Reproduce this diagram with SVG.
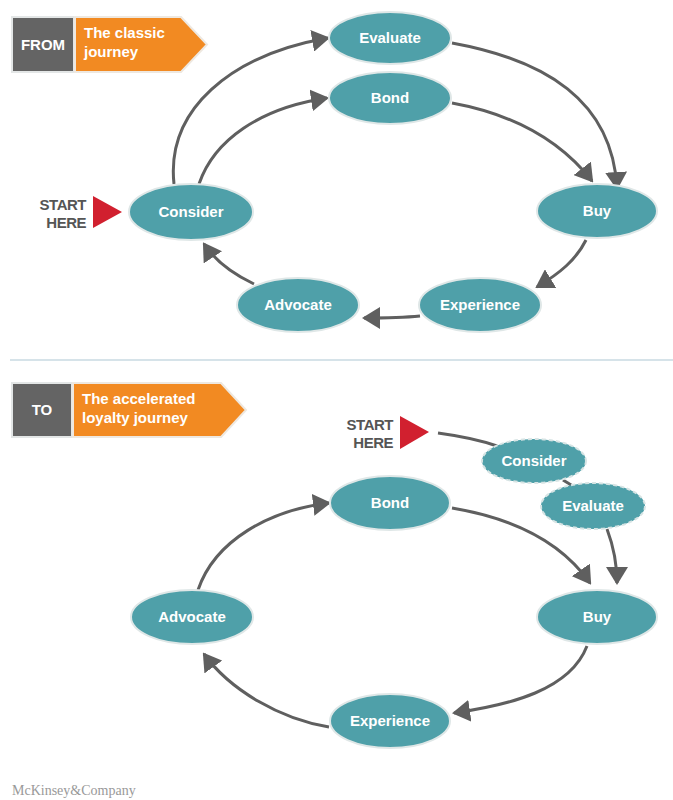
<svg xmlns="http://www.w3.org/2000/svg" width="673" height="800" viewBox="0 0 673 800">
<style>
.node{fill:#4fa0a9;stroke:#dfe7e7;stroke-width:2}
.dnode{fill:#4fa0a9;stroke:#d7e4e4;stroke-width:2;stroke-dasharray:4 3}
.lbl{font-family:"Liberation Sans",Arial,sans-serif;font-weight:bold;font-size:15px;fill:#ffffff;text-anchor:middle}
.conn{fill:none;stroke:#5f5f5f;stroke-width:3}
.start{font-family:"Liberation Sans",Arial,sans-serif;font-weight:bold;font-size:15px;fill:#555555;text-anchor:end;letter-spacing:-0.5px}
.tag{font-family:"Liberation Sans",Arial,sans-serif;font-weight:bold;font-size:15px;fill:#ffffff}
</style>
<defs>
<marker id="ah" markerUnits="userSpaceOnUse" markerWidth="18" markerHeight="22" viewBox="0 0 18 22" refX="16" refY="11" orient="auto">
<path d="M0,0 L18,11 L0,22 z" fill="#5f5f5f"/>
</marker>
</defs>
<rect width="673" height="800" fill="#ffffff"/>

<!-- Header FROM -->
<g id="header-from">
<rect x="12" y="17" width="62" height="55" fill="#646464" stroke="#e3e6e6" stroke-width="2"/>
<polygon points="75,17 181,17 207,44.5 181,72 75,72" fill="#f28a22" stroke="#eee8e0" stroke-width="2"/>
<text class="tag" x="43" y="50" text-anchor="middle">FROM</text>
<text class="tag" x="84" y="38">The classic</text>
<text class="tag" x="84" y="57">journey</text>
</g>

<g id="start-top">
<text class="start" x="86" y="210">START</text>
<text class="start" x="86" y="228">HERE</text>
<polygon points="93,196 122,212 93,228" fill="#d1202f"/>
</g>

<!-- Top connectors -->
<g id="connectors-top">
<path class="conn" d="M174,184 C166,110 230,55 328,38" marker-end="url(#ah)"/>
<path class="conn" d="M199,184 C214,140 260,108 327,98" marker-end="url(#ah)"/>
<path class="conn" d="M452,43 C545,60 612,100 617,188" marker-end="url(#ah)"/>
<path class="conn" d="M452,103 C512,114 560,140 592,181" marker-end="url(#ah)"/>
<path class="conn" d="M586,240 C576,260 560,273 537,287" marker-end="url(#ah)"/>
<path class="conn" d="M420,316 C400,318 385,318 364,318" marker-end="url(#ah)"/>
<path class="conn" d="M254,284 C235,275 216,262 204,244" marker-end="url(#ah)"/>
</g>

<!-- Top nodes -->
<g id="top-evaluate"><ellipse class="node" cx="390" cy="38" rx="61" ry="26"/><text class="lbl" x="390" y="43">Evaluate</text></g>
<g id="top-bond"><ellipse class="node" cx="390" cy="98" rx="61" ry="26"/><text class="lbl" x="390" y="103">Bond</text></g>
<g id="top-consider"><ellipse class="node" cx="191" cy="212" rx="62" ry="28"/><text class="lbl" x="191" y="217">Consider</text></g>
<g id="top-buy"><ellipse class="node" cx="597" cy="211" rx="60" ry="27"/><text class="lbl" x="597" y="216">Buy</text></g>
<g id="top-advocate"><ellipse class="node" cx="298" cy="305" rx="61" ry="27"/><text class="lbl" x="298" y="310">Advocate</text></g>
<g id="top-experience"><ellipse class="node" cx="480" cy="305" rx="61" ry="27"/><text class="lbl" x="480" y="310">Experience</text></g>

<line x1="10" y1="360" x2="673" y2="360" stroke="#c9dae2" stroke-width="1.5"/>

<!-- Header TO -->
<g id="header-to">
<rect x="12" y="383" width="60" height="54" fill="#646464" stroke="#e3e6e6" stroke-width="2"/>
<polygon points="73,383 221,383 246,410 221,437 73,437" fill="#f28a22" stroke="#eee8e0" stroke-width="2"/>
<text class="tag" x="42" y="415" text-anchor="middle">TO</text>
<text class="tag" x="82" y="404">The accelerated</text>
<text class="tag" x="82" y="423">loyalty journey</text>
</g>

<g id="start-bottom">
<text class="start" x="393" y="430">START</text>
<text class="start" x="393" y="448">HERE</text>
<polygon points="400,416 429,432 400,449" fill="#d1202f"/>
</g>

<!-- Bottom connectors -->
<g id="connectors-bottom">
<path class="conn" d="M438,433 C460,436 480,440 497,446"/>
<path class="conn" d="M563,480 L576,488"/>
<path class="conn" d="M607,529 C613,545 617,560 617,583" marker-end="url(#ah)"/>
<path class="conn" d="M452,508 C512,518 560,540 590,583" marker-end="url(#ah)"/>
<path class="conn" d="M587,646 C570,690 510,705 454,713" marker-end="url(#ah)"/>
<path class="conn" d="M329,727 C280,719 230,690 204,654" marker-end="url(#ah)"/>
<path class="conn" d="M198,590 C215,540 270,510 329,503" marker-end="url(#ah)"/>
</g>

<!-- Bottom nodes -->
<g id="bot-consider"><ellipse class="dnode" cx="534" cy="461" rx="52" ry="22"/><text class="lbl" x="534" y="466">Consider</text></g>
<g id="bot-evaluate"><ellipse class="dnode" cx="593" cy="506" rx="52" ry="23"/><text class="lbl" x="593" y="511">Evaluate</text></g>
<g id="bot-bond"><ellipse class="node" cx="390" cy="503" rx="60" ry="27"/><text class="lbl" x="390" y="508">Bond</text></g>
<g id="bot-buy"><ellipse class="node" cx="597" cy="617" rx="60" ry="27"/><text class="lbl" x="597" y="622">Buy</text></g>
<g id="bot-advocate"><ellipse class="node" cx="192" cy="617" rx="61" ry="27"/><text class="lbl" x="192" y="622">Advocate</text></g>
<g id="bot-experience"><ellipse class="node" cx="390" cy="721" rx="60" ry="27"/><text class="lbl" x="390" y="726">Experience</text></g>

<text x="12" y="795" font-family="'Liberation Serif','Times New Roman',serif" font-size="14" fill="#999999">McKinsey&amp;Company</text>
</svg>
